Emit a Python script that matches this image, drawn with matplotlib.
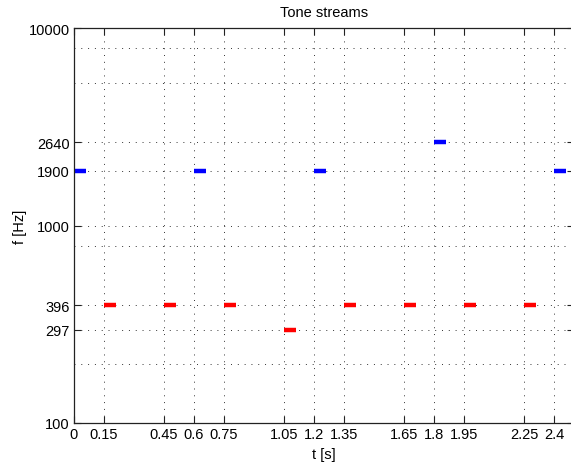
import matplotlib
matplotlib.use("Agg")
import matplotlib.pyplot as plt
import numpy as np

plt.rcParams['font.family'] = ['Liberation Sans', 'DejaVu Sans']

# tone onsets [s] and frequencies [Hz] for each stream
a_times = [0.15, 0.45, 0.75, 1.05, 1.35, 1.65, 1.95, 2.25]
a_freqs = [396, 396, 396, 297, 396, 396, 396, 396]
b_times = [0.0, 0.6, 1.2, 1.8, 2.4]
b_freqs = [1900, 1900, 1900, 2640, 1900]
tone_dur = 0.06

xticks = [0, 0.15, 0.45, 0.6, 0.75, 1.05, 1.2, 1.35, 1.65, 1.8, 1.95, 2.25, 2.4]
xticklabels = ['0', '0.15', '0.45', '0.6', '0.75', '1.05', '1.2', '1.35',
               '1.65', '1.8', '1.95', '2.25', '2.4']
yticks = [100, 297, 396, 1000, 1900, 2640, 10000]
yminor = [198, 792, 5280, 7920]

fig = plt.figure(figsize=(5.71, 4.64), dpi=100)
ax = fig.add_axes([74/571, 1 - 424/464, 500/571, (424 - 29.3)/464])

for t, f in zip(a_times, a_freqs):
    ax.plot([t, t + tone_dur], [f, f], color=(1, 0, 0), lw=3.2, solid_capstyle='butt')
for t, f in zip(b_times, b_freqs):
    ax.plot([t, t + tone_dur], [f, f], color=(0, 0, 1), lw=3.2, solid_capstyle='butt')

ax.set_yscale('log')
ax.set_xlim(0, 2.5)
ax.set_ylim(100, 10000)
ax.set_xticks(xticks)
ax.set_xticklabels(xticklabels)
ax.set_yticks(yticks)
ax.set_yticklabels([str(v) for v in yticks])
ax.set_yticks(yminor, minor=True)
ax.yaxis.set_minor_formatter(matplotlib.ticker.NullFormatter())

ax.tick_params(which='both', direction='in', top=True, right=True, length=5,
               width=0.8, labelsize=10.5, color='#222222', pad=3)
ax.tick_params(axis='y', which='minor', length=0)
ax.grid(True, which='both', axis='y', color='#333333', ls=(0, (1, 6)), lw=0.7)
ax.grid(True, which='major', axis='x', color='#333333', ls=(0, (1, 6)), lw=0.7)
for s in ax.spines.values():
    s.set_color('#222222')
    s.set_linewidth(0.9)

ax.set_title('Tone streams', fontsize=10.5, pad=9)
ax.set_xlabel('t [s]', fontsize=10.5, labelpad=4)
ax.set_ylabel('f [Hz]', fontsize=10.5, labelpad=1)

fig.savefig('out.png', dpi=100)
